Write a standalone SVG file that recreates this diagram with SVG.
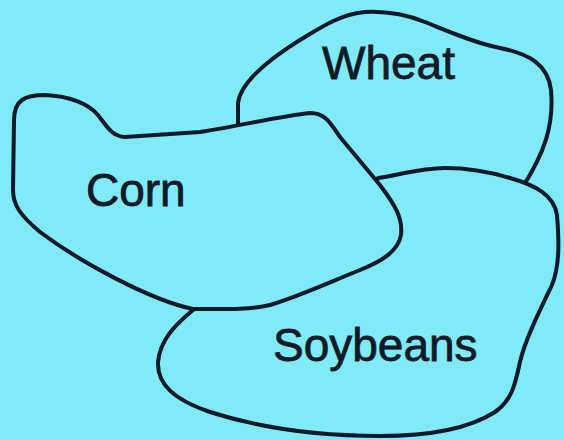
<svg xmlns="http://www.w3.org/2000/svg" width="564" height="440" viewBox="0 0 564 440">
<style>
.region{fill:#80eaf8;stroke:#0b1a28;stroke-width:4;stroke-linejoin:round;stroke-linecap:round}
.lbl{font-family:"Liberation Sans",Arial,sans-serif;font-size:46px;fill:#0f1c28;stroke:#0f1c28;stroke-width:0.8}
</style>
<rect width="564" height="440" fill="#80eaf8"/>
<g id="wheat">
<path class="region" d="M 238,140 L 238,103 C 240,85 260,65 300,40 C 320,28 340,14 365,12 C 385,11 405,14 425,22 C 450,32 475,43 500,48 C 530,54 548,65 551,90 C 554,125 545,152 522,188 L 300,190 Z"/>
<text class="lbl" x="322" y="79">Wheat</text>
</g>
<g id="soybeans">
<path class="region" d="M 193,310 C 175,325 160,340 158,362 C 157,385 175,400 210,412 C 260,428 320,436 380,436 C 430,436 470,428 495,412 C 512,400 515,385 520,362 C 525,340 540,310 552,285 C 560,265 559,240 557,215 C 554,195 535,185 510,178 C 490,172 470,168 445,168 C 420,168 395,176 378,178 L 300,250 Z"/>
<text class="lbl" x="273" y="361">Soybeans</text>
</g>
<g id="corn">
<path class="region" d="M 14,120 C 14,100 25,95 45,95 C 70,96 88,104 97,114 C 106,124 110,136 125,137 L 200,132 C 240,126 280,116 310,113 C 325,113 330,122 340,137 L 380,185 C 395,205 403,218 401,235 C 398,252 380,262 360,270 C 330,282 300,296 270,305 C 250,310 220,309 193,309 C 150,300 80,262 40,232 C 20,215 13,205 13,190 L 14,120 Z"/>
<text class="lbl" x="86" y="206">Corn</text>
</g>
<g id="connectors"></g>
</svg>
